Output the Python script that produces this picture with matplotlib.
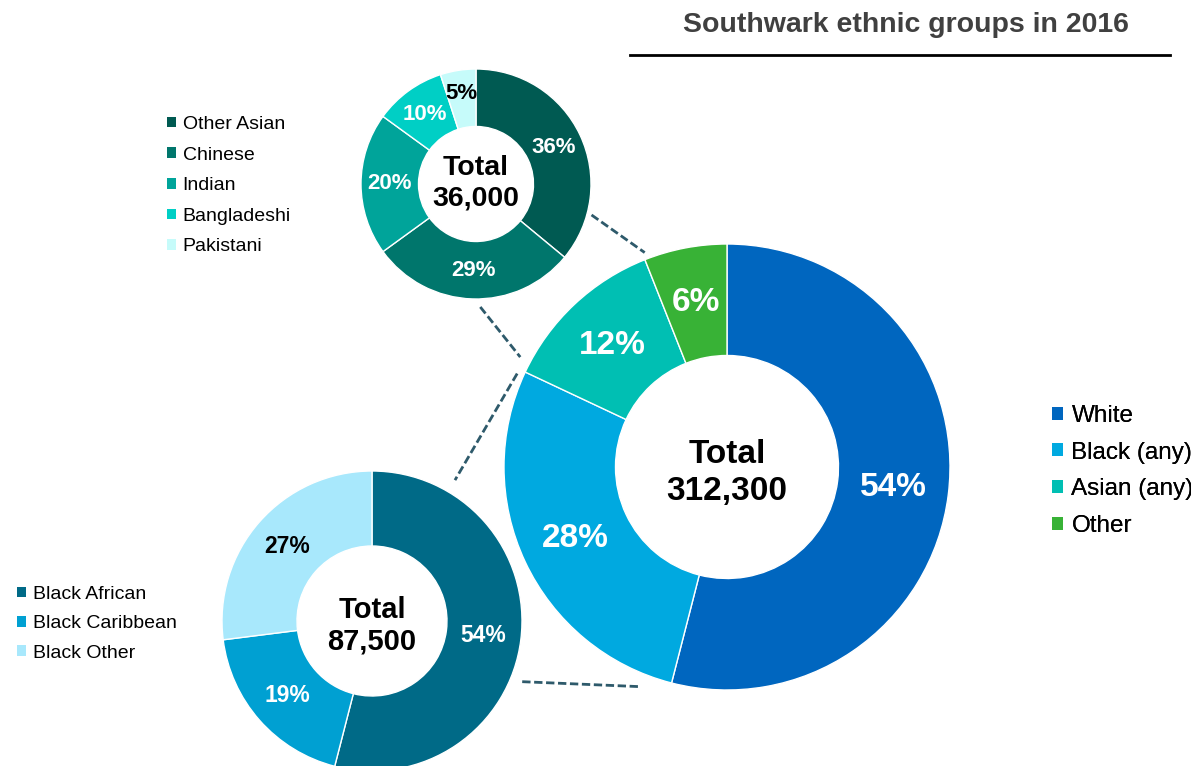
import numpy as np
import matplotlib
matplotlib.use("Agg")
import matplotlib.pyplot as plt
from matplotlib.patches import Patch

plt.rcParams['font.family'] = ['Liberation Sans', 'DejaVu Sans']

# --- data ---
main_labels = ['White', 'Black (any)', 'Asian (any)', 'Other']
main_pct = [54, 28, 12, 6]
main_colors = ['#0066BF', '#00A9E0', '#00BFB3', '#38B236']
main_total = '312,300'

asian_labels = ['Other Asian', 'Chinese', 'Indian', 'Bangladeshi', 'Pakistani']
asian_pct = [36, 29, 20, 10, 5]
asian_colors = ['#005A52', '#00766C', '#00A49A', '#00CFC5', '#C6FBFA']
asian_total = '36,000'

black_labels = ['Black African', 'Black Caribbean', 'Black Other']
black_pct = [54, 19, 27]
black_colors = ['#006A87', '#00A0D2', '#A8E8FC']
black_total = '87,500'

title = 'Southwark ethnic groups in 2016'

# --- layout (pixels, y measured from top) ---
W, H = 1191, 766
donuts = {
    'main': dict(cx=727, cy=467, r=223),
    'asian': dict(cx=476, cy=184, r=115),
    'black': dict(cx=372, cy=621, r=150),
}


def pos(name, ang, rfac):
    # point on a donut, angle clockwise from 12 o'clock, y up
    d = donuts[name]
    a = np.radians(ang)
    return d['cx'] + d['r'] * rfac * np.sin(a), (H - d['cy']) + d['r'] * rfac * np.cos(a)


def donut(ax, name, values, colors, total, fs_pct, fs_total, ls, dy):
    d = donuts[name]
    wedges, _, pcts = ax.pie(values, colors=colors, center=(d['cx'], H - d['cy']),
                             radius=d['r'], startangle=90, counterclock=False,
                             autopct='%.0f%%', pctdistance=0.75,
                             wedgeprops=dict(width=d['r'] * 0.5, edgecolor='white', linewidth=1),
                             textprops=dict(fontsize=fs_pct, fontweight='bold', color='white'))
    ax.text(d['cx'], H - d['cy'] + dy, 'Total\n' + total, ha='center', va='center',
            fontsize=fs_total, fontweight='bold', color='black', linespacing=ls)
    return wedges, pcts


fig = plt.figure(figsize=(W / 100, H / 100), dpi=100)
ax = fig.add_axes([0, 0, 1, 1])

_, main_txt = donut(ax, 'main', main_pct, main_colors, main_total, 24, 24, 1.23, -6)
_, asian_txt = donut(ax, 'asian', asian_pct, asian_colors, asian_total, 16, 20.5, 1.21, 1)
_, black_txt = donut(ax, 'black', black_pct, black_colors, black_total, 16.5, 21, 1.18, -4.5)

# small slices get dark labels
asian_txt[4].set_position(pos('asian', 351, 0.8))
asian_txt[4].set_color('black')
black_txt[2].set_color('black')

# dashed connectors between the donuts
connectors = [
    (('asian', 105, 1.04), ('main', 339, 1.03)),
    (('asian', 178, 1.07), ('main', 298, 1.05)),
    (('main', 294, 1.03), ('black', 30.5, 1.09)),
    (('black', 112, 1.08), ('main', 201.7, 1.06)),
]
for a, b in connectors:
    x0, y0 = pos(*a)
    x1, y1 = pos(*b)
    ax.plot([x0, x1], [y0, y1], color='#2E5A6B', lw=2, dashes=(3, 1.3))


def legend(labels, colors, x, y, fs, spacing):
    handles = [Patch(facecolor=c, edgecolor='none') for c in colors]
    leg = ax.legend(handles, labels, loc='upper left', bbox_to_anchor=(x, H - y),
                    bbox_transform=ax.transData, frameon=False, fontsize=fs,
                    handlelength=0.45, handleheight=0.45, handletextpad=0.35,
                    labelspacing=spacing, borderpad=0, borderaxespad=0)
    ax.add_artist(leg)


legend(asian_labels, asian_colors, 167, 116, 14, 0.7)
legend(black_labels, black_colors, 17, 586, 14, 0.63)
legend(main_labels, main_colors, 1052, 405, 17.5, 0.6)

# title with rule underneath
ax.text(906, H - 25, title, ha='center', va='center', fontsize=20.5,
        fontweight='bold', color='#404040')
ax.plot([630, 1170], [H - 55, H - 55], color='black', lw=2)

ax.set_xlim(0, W)
ax.set_ylim(0, H)
ax.set_aspect('equal')
ax.axis('off')

fig.savefig('out.png', dpi=100, facecolor='white')
